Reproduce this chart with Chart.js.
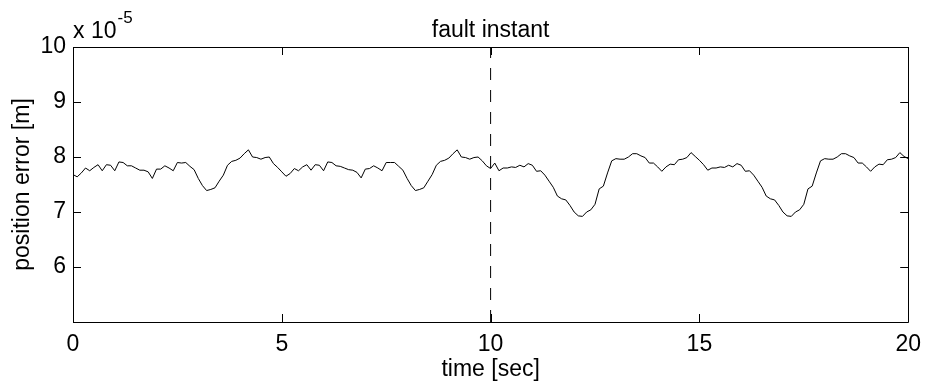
<!DOCTYPE html>
<html>
<head>
<meta charset="utf-8">
<script src="https://cdn.jsdelivr.net/npm/chart.js@4.4.1/dist/chart.umd.min.js"></script>
<style>
    html, body { margin: 0; padding: 0; background: #fff; }
    #wrap { width: 930px; height: 383px; }
</style>
</head>
<body>
<div id="wrap"><canvas id="chart" width="930" height="383"></canvas></div>
<script>
// Position error, in units of 1e-5 m, sampled every 0.1 s from 0 to 20 s
const SAMPLE_STEP = 0.1;
const positionError = [
    7.68, 7.64, 7.71, 7.80, 7.75, 7.81, 7.86, 7.75, 7.86, 7.85,
    7.75, 7.91, 7.90, 7.84, 7.84, 7.80, 7.76, 7.76, 7.73, 7.61,
    7.78, 7.78, 7.84, 7.80, 7.75, 7.90, 7.89, 7.90, 7.83, 7.77,
    7.61, 7.48, 7.39, 7.41, 7.44, 7.56, 7.67, 7.85, 7.92, 7.94,
    7.98, 8.06, 8.13, 8.00, 7.99, 7.96, 7.99, 8.00, 7.88, 7.81,
    7.73, 7.65, 7.70, 7.79, 7.75, 7.82, 7.86, 7.76, 7.86, 7.85,
    7.75, 7.91, 7.90, 7.84, 7.83, 7.80, 7.77, 7.76, 7.72, 7.62,
    7.78, 7.79, 7.84, 7.80, 7.75, 7.90, 7.90, 7.90, 7.83, 7.76,
    7.61, 7.48, 7.39, 7.41, 7.44, 7.56, 7.68, 7.85, 7.92, 7.94,
    7.98, 8.06, 8.13, 8.00, 7.99, 7.96, 7.99, 8.00, 7.93, 7.84,
    7.79, 7.89, 7.75, 7.80, 7.80, 7.82, 7.81, 7.85, 7.82, 7.88,
    7.85, 7.74, 7.75, 7.67, 7.56, 7.45, 7.29, 7.24, 7.22, 7.12,
    7.00, 6.93, 6.92, 7.00, 7.04, 7.14, 7.42, 7.47, 7.71, 7.93,
    7.97, 7.96, 7.96, 8.00, 8.06, 8.06, 8.02, 7.99, 7.89, 7.89,
    7.82, 7.74, 7.82, 7.87, 7.86, 7.95, 7.96, 7.99, 8.08, 8.01,
    7.94, 7.86, 7.76, 7.80, 7.80, 7.82, 7.81, 7.85, 7.82, 7.88,
    7.85, 7.74, 7.75, 7.67, 7.56, 7.45, 7.29, 7.24, 7.22, 7.12,
    7.00, 6.93, 6.92, 7.00, 7.04, 7.14, 7.42, 7.47, 7.71, 7.93,
    7.97, 7.96, 7.96, 8.00, 8.06, 8.06, 8.02, 7.99, 7.89, 7.89,
    7.82, 7.74, 7.82, 7.87, 7.86, 7.95, 7.96, 7.99, 8.08, 8.01,
    7.97
];
const xTicks = [0, 5, 10, 15, 20];
const yTicks = [5, 6, 7, 8, 9, 10];
const yTickLabels = ['', '6', '7', '8', '9', '10'];
const faultTime = 10;
const faultLabel = 'fault instant';

const FONT = "'Liberation Sans', Arial, Helvetica, sans-serif";

// Build line points from the arrays
const errorPoints = positionError.map((v, i) => ({ x: +(i * SAMPLE_STEP).toFixed(1), y: v }));
const faultPoints = [
    { x: faultTime, y: yTicks[0] },
    { x: faultTime, y: yTicks[yTicks.length - 1] }
];

// MATLAB-like frame: box, inward ticks, exponent and fault label
const matlabFrame = {
    id: 'matlabFrame',
    afterDraw(chart) {
        const { ctx, chartArea: a, scales } = chart;
        const x = scales.x, y = scales.y;
        const tl = 8;
        ctx.save();
        ctx.strokeStyle = '#000';
        ctx.lineWidth = 1;
        ctx.beginPath();
        ctx.rect(Math.round(a.left) + 0.5, Math.round(a.top) + 0.5,
                 Math.round(a.right - a.left), Math.round(a.bottom - a.top));
        xTicks.forEach(t => {
            const px = Math.round(x.getPixelForValue(t)) + 0.5;
            ctx.moveTo(px, a.bottom); ctx.lineTo(px, a.bottom - tl);
            ctx.moveTo(px, a.top); ctx.lineTo(px, a.top + tl);
        });
        yTicks.forEach(t => {
            const py = Math.round(y.getPixelForValue(t)) + 0.5;
            ctx.moveTo(a.left, py); ctx.lineTo(a.left + tl, py);
            ctx.moveTo(a.right, py); ctx.lineTo(a.right - tl, py);
        });
        ctx.stroke();

        // exponent label
        ctx.fillStyle = '#000';
        ctx.textBaseline = 'alphabetic';
        ctx.textAlign = 'left';
        ctx.font = '23px ' + FONT;
        const base = 'x 10';
        ctx.fillText(base, a.left, 38);
        const w = ctx.measureText(base).width;
        ctx.font = '17px ' + FONT;
        ctx.fillText('-5', a.left + w + 1, 23);

        // fault label above dashed line
        ctx.font = '23px ' + FONT;
        ctx.textAlign = 'center';
        ctx.fillText(faultLabel, x.getPixelForValue(faultTime), 37);
        ctx.restore();
    }
};

new Chart(document.getElementById('chart').getContext('2d'), {
    type: 'line',
    data: {
        datasets: [
            {
                label: 'position error',
                data: errorPoints,
                borderColor: '#000',
                borderWidth: 1,
                pointRadius: 0,
                tension: 0,
                fill: false
            },
            {
                label: 'fault instant',
                data: faultPoints,
                borderColor: '#000',
                borderWidth: 1,
                borderDash: [12, 10],
                pointRadius: 0,
                fill: false
            }
        ]
    },
    options: {
        responsive: false,
        animation: false,
        events: [],
        layout: { padding: { top: 47, right: 18, left: 0, bottom: 0 } },
        plugins: {
            legend: { display: false },
            tooltip: { enabled: false }
        },
        scales: {
            x: {
                type: 'linear',
                min: 0,
                max: 20,
                afterBuildTicks: s => { s.ticks = xTicks.map(v => ({ value: v })); },
                afterFit: s => { s.height = 61; },
                grid: { display: false, drawTicks: false },
                border: { display: false },
                ticks: {
                    color: '#000',
                    font: { family: FONT, size: 23 },
                    padding: 9,
                    maxRotation: 0
                },
                title: {
                    display: true,
                    text: 'time [sec]',
                    color: '#000',
                    font: { family: FONT, size: 23, lineHeight: 1.15 },
                    padding: { top: 0, bottom: 0 }
                }
            },
            y: {
                min: 5,
                max: 10,
                afterBuildTicks: s => { s.ticks = yTicks.map(v => ({ value: v })); },
                afterFit: s => { s.width = 73; },
                grid: { display: false, drawTicks: false },
                border: { display: false },
                ticks: {
                    color: '#000',
                    font: { family: FONT, size: 23 },
                    padding: 7,
                    callback: (v) => yTickLabels[yTicks.indexOf(v)]
                },
                title: {
                    display: true,
                    text: 'position error [m]',
                    color: '#000',
                    font: { family: FONT, size: 23, lineHeight: 1.2 },
                    padding: { top: 9, bottom: 0 }
                }
            }
        }
    },
    plugins: [matlabFrame]
});
</script>
</body>
</html>
